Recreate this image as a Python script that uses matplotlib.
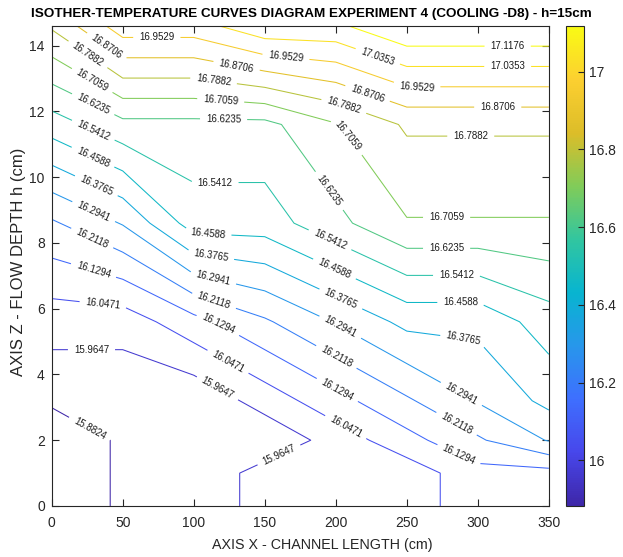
import numpy as np
import matplotlib
matplotlib.use("Agg")
import matplotlib.pyplot as plt
from matplotlib.colors import LinearSegmentedColormap, Normalize
from matplotlib.cm import ScalarMappable

plt.rcParams["font.family"] = ["Liberation Sans", "DejaVu Sans"]

# measurement grid: channel length (cm) x flow depth (cm)
x_cm = [0, 50, 100, 150, 200, 250, 300, 350]
z_cm = [0, 1, 2, 3.2, 5.6, 8.6, 11.6, 14.6]

# temperature (degC), one row per depth
temp_z0 = [15.8, 15.9, 15.9, 16.0, 16.0, 16.0, 16.1, 16.1]
temp_z1 = [15.8, 15.9, 15.9, 16.0, 16.0, 16.0, 16.1, 16.1]
temp_z2 = [15.8, 15.9, 15.9, 15.9, 16.0, 16.1, 16.2, 16.3]
temp_z3 = [15.9, 15.9, 15.9, 16.0, 16.1, 16.2, 16.3, 16.4]
temp_z4 = [16.0, 16.0, 16.1, 16.2, 16.3, 16.4, 16.4, 16.5]
temp_z5 = [16.2, 16.3, 16.5, 16.5, 16.6, 16.7, 16.7, 16.7]
temp_z6 = [16.5, 16.6, 16.6, 16.6, 16.7, 16.8, 16.8, 16.8]
temp_z7 = [16.8, 17.0, 17.0, 17.1, 17.1, 17.2, 17.2, 17.2]

t_min, t_max, n_lev = 15.8, 17.2, 18
colorbar_ticks = [16.0, 16.2, 16.4, 16.6, 16.8, 17.0]

# label positions along the isotherms
label_pos = [
    (26, 2.3), (28, 4.7), (36, 6.1), (29, 7.1), (28, 8.1), (29, 8.9),
    (31, 9.7), (29, 10.6), (29, 11.4), (29, 12.2), (28, 12.9), (25, 13.7),
    (39, 14.0), (74, 14.2),
    (117, 3.6), (123, 4.3), (117, 5.5), (114, 6.2), (113, 6.8), (112, 7.6),
    (110, 8.25), (115, 9.8), (121, 11.75), (119, 12.35), (114, 12.95),
    (130, 13.35), (165, 13.7), (160, 1.55),
    (207, 2.4), (202, 3.6), (200, 4.5), (202, 5.35), (202, 6.15), (199, 7.2),
    (196, 8.1), (196, 9.6), (207, 11.2), (206, 12.2), (222, 12.5), (229, 13.6),
    (287, 1.6), (285, 2.5), (287, 3.3), (290, 5.1), (288, 6.2), (285, 7.0),
    (278, 7.8), (278, 8.8), (295, 11.25), (314, 12.13), (257, 12.75),
    (321, 13.36), (321, 13.99),
]

parula = LinearSegmentedColormap.from_list("parula", [
    (0.2422, 0.1504, 0.6603), (0.2803, 0.2782, 0.9221),
    (0.2440, 0.4358, 0.9988), (0.1540, 0.5902, 0.9218),
    (0.0297, 0.7082, 0.8163), (0.1938, 0.7758, 0.6251),
    (0.5044, 0.7993, 0.3480), (0.8634, 0.7406, 0.1596),
    (0.9892, 0.8136, 0.1885), (0.9769, 0.9839, 0.0805),
])

T = np.array([temp_z0, temp_z1, temp_z2, temp_z3,
              temp_z4, temp_z5, temp_z6, temp_z7])
X, Z = np.meshgrid(x_cm, z_cm)
levels = np.linspace(t_min, t_max, n_lev)[1:-1]
norm = Normalize(levels[0], levels[-1])

fig = plt.figure(figsize=(6.23, 5.57), dpi=100)
ax = fig.add_axes([0.083, 0.0916, 0.798, 0.862])

cs = ax.contour(X, Z, T, levels=levels, cmap=parula, norm=norm,
                linewidths=0.75)
ax.clabel(cs, manual=label_pos, fmt="%.4f", fontsize=7, colors="#1a1a1a",
          inline=True, inline_spacing=6)

ax.set_xlim(0, 350)
ax.set_ylim(0, 14.6)
ax.set_xticks(np.arange(0, 351, 50))
ax.set_yticks(np.arange(0, 15, 2))
ax.tick_params(direction="in", length=5, width=0.8, top=True, right=True,
               labelsize=10, colors="#262626")
ax.tick_params(axis="x", pad=7)
ax.tick_params(axis="y", pad=5)
for s in ax.spines.values():
    s.set_color("#262626")
    s.set_linewidth(0.8)
ax.set_xlabel("AXIS X - CHANNEL LENGTH (cm)", fontsize=10.3, color="#262626")
ax.xaxis.set_label_coords(0.5435, -0.066)
ax.set_ylabel("AXIS Z - FLOW DEPTH h (cm)", fontsize=12, color="#262626")
ax.yaxis.set_label_coords(-0.052, 0.508)

fig.text(0.5, 0.975, "ISOTHER-TEMPERATURE CURVES DIAGRAM EXPERIMENT 4 (COOLING -D8) - h=15cm",
         ha="center", va="center", fontsize=9.7, fontweight="bold")

cax = fig.add_axes([0.908, 0.0916, 0.0299, 0.862])
cb = fig.colorbar(ScalarMappable(norm=norm, cmap=parula), cax=cax,
                  ticks=colorbar_ticks)
cb.ax.set_yticklabels(["%g" % v for v in colorbar_ticks])
cb.ax.tick_params(direction="in", length=4, width=0.8, labelsize=10,
                  colors="#262626")
cb.outline.set_edgecolor("#262626")
cb.outline.set_linewidth(0.8)

fig.savefig("out.png", dpi=100)
